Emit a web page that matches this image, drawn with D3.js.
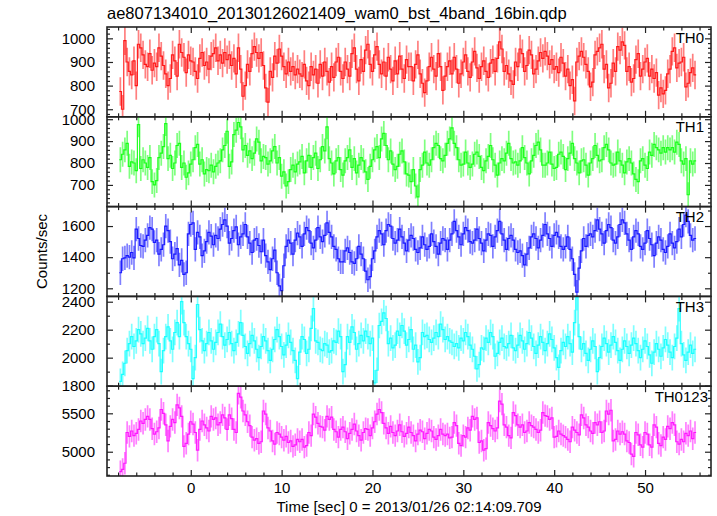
<!DOCTYPE html>
<html><head><meta charset="utf-8">
<script src="https://cdn.jsdelivr.net/npm/d3@7"></script>
<style>
body{margin:0;background:#fff}
svg{display:block}
text{font-family:"Liberation Sans",Arial,Helvetica,sans-serif;fill:#000}
</style>
</head><body>
<svg id="chart" width="717" height="516"></svg>
<script>
const title = "ae807134010_20130126021409_wam0_bst_4band_16bin.qdp";
const xLabel = "Time [sec] 0 = 2013/01/26 02:14:09.709";
const yLabel = "Counts/sec";
const bandNames = ["TH0", "TH1", "TH2", "TH3", "TH0123"];
const bandColors = ["#ff0000", "#00ff00", "#0000ff", "#00ffff", "#ff00ff"];
const binStart = -7.75;   // centre of first bin [s]
const binWidth = 0.25;    // bin width [s]

const th0 = [
775,700,990,900,860,845,905,800,975,960,930,890,880,935,865,895,
880,960,925,885,850,800,830,930,905,840,975,940,920,855,930,905,
900,860,830,915,940,885,900,870,925,935,960,905,930,895,940,910,
930,885,915,850,960,870,755,800,890,860,935,965,940,915,940,885,
790,730,860,835,925,895,955,925,880,850,900,860,880,845,870,850,
840,890,820,800,880,845,870,810,890,840,900,860,815,880,835,900,
920,860,830,900,870,840,935,960,870,820,910,860,950,975,890,860,
930,965,890,850,900,840,920,870,820,905,850,925,870,830,910,880,
880,820,890,930,850,810,770,820,880,920,870,840,935,880,780,840,
880,905,850,920,870,810,850,900,930,860,835,900,945,875,830,880,
905,860,835,895,910,860,915,985,955,860,885,850,820,805,900,880,
955,935,860,885,950,930,850,870,905,940,915,945,925,890,910,870,
880,855,920,895,840,870,800,825,735,900,925,945,920,890,860,795,
815,930,945,960,975,870,890,790,810,895,860,965,950,985,970,860,
880,815,830,910,935,840,870,900,915,840,870,830,855,760,790,765,
780,850,870,945,960,875,895,900,920,795,810,855,875,845];

const th1 = [
815,840,860,890,785,805,800,765,975,775,815,800,780,825,715,700,
720,825,845,875,980,820,835,775,800,880,890,780,800,735,755,795,
815,870,885,795,815,750,770,765,790,760,785,800,810,860,880,945,
785,805,930,950,985,965,860,880,835,855,820,845,910,895,810,830,
825,795,810,855,875,800,825,740,760,695,715,770,790,760,795,805,
830,755,810,835,780,825,845,775,815,875,855,965,820,800,750,810,
825,770,745,810,825,860,780,820,755,790,825,810,760,725,785,815,
860,875,825,910,935,880,815,855,795,770,785,840,855,805,750,745,
715,770,695,645,770,790,850,800,790,815,870,890,880,820,810,835,
890,910,960,890,870,815,790,795,850,800,780,795,840,850,830,780,
765,810,830,880,815,790,745,800,820,810,845,890,820,800,805,790,
810,870,825,800,750,810,835,880,895,860,790,790,800,850,795,775,
780,840,850,830,770,820,845,890,820,800,755,810,815,790,745,800,
820,880,835,810,815,870,885,860,800,790,795,850,810,790,755,805,
820,800,750,725,715,810,820,790,775,850,835,885,870,860,845,870,
850,870,860,870,850,895,885,810,795,820,655,810,795,810];

const th2 = [
1300,1390,1395,1410,1400,1430,1395,1580,1520,1475,1470,1510,1540,1590,1580,1495,
1510,1420,1450,1480,1600,1570,1500,1390,1420,1455,1350,1380,1290,1300,1550,1610,
1620,1450,1560,1530,1410,1440,1500,1560,1535,1480,1540,1520,1580,1610,1640,1600,
1490,1520,1570,1595,1480,1530,1550,1610,1530,1490,1430,1510,1520,1475,1435,1510,
1410,1370,1320,1390,1445,1300,1215,1185,1345,1470,1510,1490,1420,1510,1555,1530,
1470,1550,1590,1570,1490,1460,1510,1590,1530,1500,1540,1620,1560,1530,1470,1450,
1390,1370,1370,1440,1460,1430,1370,1360,1390,1470,1420,1390,1310,1255,1275,1390,
1440,1530,1570,1550,1480,1570,1610,1600,1520,1490,1510,1580,1530,1490,1440,1510,
1540,1520,1450,1430,1460,1530,1480,1450,1470,1550,1500,1470,1420,1490,1520,1510,
1450,1510,1550,1630,1570,1530,1480,1550,1590,1570,1500,1490,1510,1580,1520,1490,
1440,1510,1550,1540,1470,1530,1570,1630,1550,1510,1450,1520,1540,1510,1450,1430,
1440,1410,1350,1420,1460,1530,1550,1520,1460,1510,1540,1610,1550,1520,1470,1540,
1560,1530,1470,1450,1470,1530,1450,1390,1290,1175,1330,1440,1520,1470,1540,1550,
1530,1570,1640,1580,1550,1490,1570,1610,1590,1510,1490,1530,1610,1640,1620,1550,
1510,1450,1530,1570,1550,1470,1450,1490,1570,1520,1480,1410,1490,1530,1510,1450,
1430,1470,1550,1490,1460,1500,1580,1530,1610,1670,1630,1540,1510,1520];

const th3 = [
1830,1880,1960,2050,2100,2150,2080,2120,2200,2170,2100,2140,2210,2120,2060,2150,
2200,2100,1900,2050,2150,2220,2120,2060,2180,2250,2150,2400,2250,2150,2100,2060,
1850,2000,2380,2200,2120,2050,2100,2180,2120,2060,2110,2180,2240,2150,2090,2130,
2180,2100,2050,2110,2170,2250,2160,2080,2030,2100,2160,2120,2060,2000,2080,2150,
2120,2050,1980,2060,2130,2200,2150,2080,2020,2090,2160,2110,2050,1980,1850,2040,
2150,2130,2030,2060,2210,2350,2120,2110,2060,2050,2100,2090,2040,2050,2120,2110,
2190,2150,1900,1950,2150,2110,2220,2180,2060,2100,2160,2120,2190,2150,2100,2140,
1820,1910,2230,2260,2320,2280,2100,2140,2070,2090,2190,2160,2230,2190,2090,2130,
2200,2060,2090,1970,2000,2180,2150,2160,2130,2110,2140,2180,2150,2240,2200,2130,
2150,2120,2110,2080,2100,2070,2140,2120,2180,2150,2090,2060,2010,1920,1950,2070,
2060,2140,2110,2180,2150,2010,2030,2110,2140,2080,2070,2100,2160,2070,2050,2090,
2160,2120,2060,2100,2180,2140,2080,2030,2090,2150,2110,2050,2100,2170,2130,2070,
2000,1930,2050,2110,2080,2150,2100,2040,2250,2430,2150,2060,2100,2030,1980,2060,
2120,2080,1900,2000,2080,2140,2100,2040,2090,2150,2110,2050,1980,2060,2120,2080,
2030,2090,2140,2100,2050,2000,2060,2120,2080,2020,1960,2040,2100,2060,2010,2070,
2130,2090,2040,2000,2080,2140,2350,2100,2020,1980,2040,2090,2030,2060];

const th0123 = [
4740,4770,4850,5250,5200,5270,5210,5240,5290,5400,5370,5420,5460,5420,5300,5230,
5260,5310,5550,5500,5350,5140,5330,5420,5380,5610,5570,5460,5070,5110,5230,5390,
5360,5250,5020,5290,5400,5350,5310,5270,5460,5420,5440,5350,5380,5480,5440,5290,
5480,5430,5290,5250,5760,5710,5530,5480,5390,5340,5190,5150,5170,5110,5130,5530,
5490,5310,5270,5140,5100,5250,5230,5190,5150,5200,5120,5140,5070,5090,5160,5130,
5160,5060,5080,5250,5210,5490,5450,5370,5330,5320,5280,5460,5420,5450,5290,5260,
5190,5290,5320,5260,5170,5240,5290,5360,5270,5210,5150,5250,5300,5290,5210,5310,
5390,5490,5550,5510,5370,5310,5240,5330,5250,5210,5270,5350,5260,5200,5240,5320,
5250,5210,5140,5230,5280,5260,5170,5240,5290,5270,5190,5160,5210,5290,5230,5210,
5230,5180,5190,5380,5340,5110,5080,5210,5190,5310,5280,5460,5420,5440,5120,5140,
5020,5040,5380,5340,5300,5270,5310,5660,5620,5350,5320,5210,5180,5510,5470,5350,
5320,5350,5250,5270,5380,5340,5320,5290,5250,5280,5510,5470,5460,5420,5440,5190,
5200,5270,5230,5210,5190,5160,5130,5320,5280,5250,5220,5480,5440,5350,5320,5270,
5240,5380,5350,5390,5250,5270,5530,5490,5540,5140,5160,5270,5230,5260,5230,5140,
5120,4970,4940,5250,5220,5090,5060,5250,5230,5090,5060,5350,5320,5110,5080,5190,
5160,5330,5300,5380,5350,5130,5100,5160,5130,5240,5210,5270,5170,5250];

const seriesValues = [th0, th1, th2, th3, th0123];
const errHalf = [60, 57, 78, 92, 146];               // 1-sigma error per band
const yDomains = [[668,1048],[601,1011],[1148,1725],[1796,2438],[4684,5853]];
const yMajorTicks = [[700,800,900,1000],[700,800,900,1000],[1200,1400,1600],[1800,2000,2200,2400],[5000,5500]];
const yMinorStep = [20, 20, 100, 100, 100];
const xDomain = [-9.22, 57.26];
const xMajorTicks = [0, 10, 20, 30, 40, 50];
const xMinorStep = 2;

// ---------- layout ----------
const svg = d3.select("#chart");
const pLeft = 107, pRight = 711, pTop = 27, pBottom = 476;
const nP = seriesValues.length;
const pH = (pBottom - pTop) / nP;

const x = d3.scaleLinear().domain(xDomain).range([pLeft, pRight]);
const xMinor = d3.range(Math.ceil(xDomain[0]/xMinorStep)*xMinorStep, xDomain[1], xMinorStep)
  .filter(v => !xMajorTicks.includes(v));

const defs = svg.append("defs");
const styleAxis = sel => { sel.select(".domain").remove(); sel.selectAll("line").attr("stroke","#222").attr("stroke-width",1.2); };

seriesValues.forEach((vals, p) => {
  const y0 = pTop + p*pH, y1 = y0 + pH;
  const y = d3.scaleLinear().domain(yDomains[p]).range([y1, y0]);
  const col = bandColors[p];
  const err = errHalf[p];
  const data = vals.map((v, i) => ({t: binStart + i*binWidth, v}));

  defs.append("clipPath").attr("id", "clip"+p)
    .append("rect").attr("x", pLeft).attr("y", y0).attr("width", pRight-pLeft).attr("height", pH);

  const g = svg.append("g").attr("clip-path", `url(#clip${p})`);
  g.selectAll("line.err").data(data).join("line").attr("class","err")
    .attr("x1", d => x(d.t)).attr("x2", d => x(d.t))
    .attr("y1", d => y(d.v - err)).attr("y2", d => y(d.v + err))
    .attr("stroke", col).attr("stroke-width", 1.7).attr("stroke-opacity", 0.5);
  const stepPts = data.flatMap(d => [[d.t - binWidth/2, d.v], [d.t + binWidth/2, d.v]]);
  g.append("path").datum(stepPts)
    .attr("d", d3.line().x(d => x(d[0])).y(d => y(d[1])))
    .attr("fill","none").attr("stroke", col).attr("stroke-width", 1.2).attr("stroke-opacity", 0.85);

  const yMinor = d3.range(Math.ceil(yDomains[p][0]/yMinorStep[p])*yMinorStep[p], yDomains[p][1], yMinorStep[p])
    .filter(v => !yMajorTicks[p].includes(v));

  const axes = svg.append("g").attr("class","axes");
  axes.append("g").attr("transform",`translate(${pLeft},0)`)
    .call(d3.axisLeft(y).tickValues(yMajorTicks[p]).tickSize(-6).tickPadding(12).tickFormat(d3.format("d")))
    .call(styleAxis)
    .call(s => s.selectAll("text").attr("font-size", 15).attr("font-family", null));
  axes.append("g").attr("transform",`translate(${pLeft},0)`)
    .call(d3.axisLeft(y).tickValues(yMinor).tickSize(-3).tickFormat(""))
    .call(styleAxis);
  axes.append("g").attr("transform",`translate(${pRight},0)`)
    .call(d3.axisRight(y).tickValues(yMajorTicks[p]).tickSize(-6).tickFormat(""))
    .call(styleAxis);
  axes.append("g").attr("transform",`translate(${pRight},0)`)
    .call(d3.axisRight(y).tickValues(yMinor).tickSize(-3).tickFormat(""))
    .call(styleAxis);
  axes.append("g").attr("transform",`translate(0,${y0})`)
    .call(d3.axisTop(x).tickValues(xMajorTicks).tickSize(-6).tickFormat(""))
    .call(styleAxis);
  axes.append("g").attr("transform",`translate(0,${y0})`)
    .call(d3.axisTop(x).tickValues(xMinor).tickSize(-3.5).tickFormat(""))
    .call(styleAxis);
  axes.append("g").attr("transform",`translate(0,${y1})`)
    .call(d3.axisBottom(x).tickValues(xMajorTicks).tickSize(-6).tickPadding(6.5)
      .tickFormat(p === nP-1 ? d3.format("d") : ""))
    .call(styleAxis)
    .call(s => s.selectAll("text").attr("font-size", 15).attr("font-family", null));
  axes.append("g").attr("transform",`translate(0,${y1})`)
    .call(d3.axisBottom(x).tickValues(xMinor).tickSize(-3.5).tickFormat(""))
    .call(styleAxis);

  svg.append("rect").attr("x", pLeft).attr("y", y0).attr("width", pRight-pLeft).attr("height", pH)
    .attr("fill","none").attr("stroke","#222").attr("stroke-width",1.6);

  svg.append("text").attr("x", p === nP-1 ? 708 : 704).attr("y", y0 + 15.5).attr("text-anchor","end")
    .attr("font-size", 15).text(bandNames[p]);
});

svg.append("text").attr("x", pLeft).attr("y", 19).attr("font-size", 16.5).text(title);
svg.append("text").attr("x", (pLeft+pRight)/2).attr("y", 512).attr("text-anchor","middle")
  .attr("font-size", 15).text(xLabel);
svg.append("text").attr("transform", `translate(47,${(pTop+pBottom)/2}) rotate(-90)`)
  .attr("text-anchor","middle").attr("font-size", 15).text(yLabel);
</script>
</body></html>
